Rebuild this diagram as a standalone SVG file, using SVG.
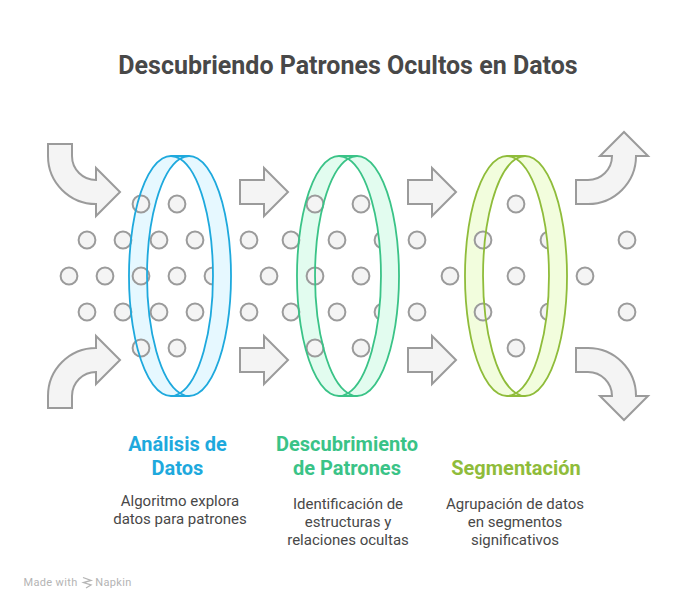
<svg xmlns="http://www.w3.org/2000/svg" width="696" height="611" viewBox="0 0 696 611">
<style>
text{font-family:Roboto,"Liberation Sans",sans-serif;text-anchor:middle}
.title{font-size:25px;font-weight:700;fill:#484848}
.head{font-size:20px;font-weight:700}
.desc{font-size:15px;fill:#484848}
.arrow{fill:#f4f4f4;stroke:#9b9b9b;stroke-width:2}
.dot{fill:#f4f4f4;stroke:#9b9b9b;stroke-width:2}
.blue{fill:#e6f8ff;stroke:none}
.green{fill:#e2fcef;stroke:none}
.lime{fill:#f2fddd;stroke:none}
.line{fill:none;stroke-width:1.8}
.wm{font-size:11px;fill:#b4b4b4;letter-spacing:.35px}
</style>
<rect width="696" height="611" fill="#fff"/>
<text class="title" x="348" y="74">Descubriendo Patrones Ocultos en Datos</text>
<g id="connectors">
<path class="arrow" d="M48 144H72V156A24 24 0 0 0 96 180V168L120 192L96 216V204A48 48 0 0 1 48 156Z"/>
<path class="arrow" d="M48 408H72V396A24 24 0 0 1 96 372V384L120 360L96 336V348A48 48 0 0 0 48 396Z"/>
<path class="arrow" d="M240 180H264V168L288 192L264 216V204H240Z"/>
<path class="arrow" d="M240 348H264V336L288 360L264 384V372H240Z"/>
<path class="arrow" d="M408 180H432V168L456 192L432 216V204H408Z"/>
<path class="arrow" d="M408 348H432V336L456 360L432 384V372H408Z"/>
<path class="arrow" d="M576 180H588A24 24 0 0 0 612 156H600L624 132L648 156H636A48 48 0 0 1 588 204H576Z"/>
<path class="arrow" d="M576 372H588A24 24 0 0 1 612 396H600L624 420L648 396H636A48 48 0 0 0 588 348H576Z"/>
</g>
<g id="ring1-back"><path class="blue" d="M180 158.8A42 120 0 1 0 180 393.2A42 120 0 0 1 180 158.8Z"/></g>
<g id="ring2-back"><path class="green" d="M348 158.8A42 120 0 1 0 348 393.2A42 120 0 0 1 348 158.8Z"/></g>
<g id="ring3-back"><path class="lime" d="M516 158.8A42 120 0 1 0 516 393.2A42 120 0 0 1 516 158.8Z"/></g>
<g id="dots">
<circle class="dot" cx="141" cy="204" r="8.4"/><circle class="dot" cx="177" cy="204" r="8.4"/>
<circle class="dot" cx="87" cy="240" r="8.4"/><circle class="dot" cx="123" cy="240" r="8.4"/><circle class="dot" cx="159" cy="240" r="8.4"/><circle class="dot" cx="195" cy="240" r="8.4"/>
<circle class="dot" cx="69" cy="276" r="8.4"/><circle class="dot" cx="105" cy="276" r="8.4"/><circle class="dot" cx="141" cy="276" r="8.4"/><circle class="dot" cx="177" cy="276" r="8.4"/><circle class="dot" cx="213" cy="276" r="8.4"/>
<circle class="dot" cx="87" cy="312" r="8.4"/><circle class="dot" cx="123" cy="312" r="8.4"/><circle class="dot" cx="159" cy="312" r="8.4"/><circle class="dot" cx="195" cy="312" r="8.4"/>
<circle class="dot" cx="141" cy="348" r="8.4"/><circle class="dot" cx="177" cy="348" r="8.4"/>
<circle class="dot" cx="315" cy="204" r="8.4"/><circle class="dot" cx="361" cy="204" r="8.4"/>
<circle class="dot" cx="249" cy="240" r="8.4"/><circle class="dot" cx="291" cy="240" r="8.4"/><circle class="dot" cx="337" cy="240" r="8.4"/><circle class="dot" cx="383" cy="240" r="8.4"/><circle class="dot" cx="417" cy="240" r="8.4"/>
<circle class="dot" cx="269" cy="276" r="8.4"/><circle class="dot" cx="315" cy="276" r="8.4"/><circle class="dot" cx="361" cy="276" r="8.4"/>
<circle class="dot" cx="249" cy="312" r="8.4"/><circle class="dot" cx="291" cy="312" r="8.4"/><circle class="dot" cx="337" cy="312" r="8.4"/><circle class="dot" cx="383" cy="312" r="8.4"/><circle class="dot" cx="417" cy="312" r="8.4"/>
<circle class="dot" cx="315" cy="348" r="8.4"/><circle class="dot" cx="361" cy="348" r="8.4"/>
<circle class="dot" cx="516" cy="204" r="8.4"/>
<circle class="dot" cx="483" cy="240" r="8.4"/><circle class="dot" cx="549" cy="240" r="8.4"/><circle class="dot" cx="627" cy="240" r="8.4"/>
<circle class="dot" cx="450" cy="276" r="8.4"/><circle class="dot" cx="516" cy="276" r="8.4"/><circle class="dot" cx="585" cy="276" r="8.4"/>
<circle class="dot" cx="483" cy="312" r="8.4"/><circle class="dot" cx="549" cy="312" r="8.4"/><circle class="dot" cx="627" cy="312" r="8.4"/>
<circle class="dot" cx="516" cy="348" r="8.4"/>
</g>
<g id="ring1-front"><path class="blue" d="M180 158.8A42 120 0 1 1 180 393.2A42 120 0 0 0 180 158.8Z"/><path class="line" stroke="#1ea9dd" d="M180 158.8A42 120 0 1 0 180 393.2A42 120 0 0 1 180 158.8A42 120 0 1 1 180 393.2A42 120 0 0 0 180 158.8M171 156H189M171 396H189"/></g>
<g id="ring2-front"><path class="green" d="M348 158.8A42 120 0 1 1 348 393.2A42 120 0 0 0 348 158.8Z"/><path class="line" stroke="#3ac387" d="M348 158.8A42 120 0 1 0 348 393.2A42 120 0 0 1 348 158.8A42 120 0 1 1 348 393.2A42 120 0 0 0 348 158.8M339 156H357M339 396H357"/></g>
<g id="ring3-front"><path class="lime" d="M516 158.8A42 120 0 1 1 516 393.2A42 120 0 0 0 516 158.8Z"/><path class="line" stroke="#8fbc3a" d="M516 158.8A42 120 0 1 0 516 393.2A42 120 0 0 1 516 158.8A42 120 0 1 1 516 393.2A42 120 0 0 0 516 158.8M507 156H525M507 396H525"/></g>
<g id="node1">
<text class="head" x="177.5" y="450.5" fill="#1ea9dd">Análisis de</text>
<text class="head" x="177.5" y="475" fill="#1ea9dd">Datos</text>
<text class="desc" x="180" y="506">Algoritmo explora</text>
<text class="desc" x="180" y="524">datos para patrones</text>
</g>
<g id="node2">
<text class="head" x="347" y="450.5" fill="#3ac387">Descubrimiento</text>
<text class="head" x="347" y="475" fill="#3ac387">de Patrones</text>
<text class="desc" x="348" y="509">Identificación de</text>
<text class="desc" x="348" y="527">estructuras y</text>
<text class="desc" x="348" y="545">relaciones ocultas</text>
</g>
<g id="node3">
<text class="head" x="516" y="475" fill="#8fbc3a">Segmentación</text>
<text class="desc" x="515" y="509">Agrupación de datos</text>
<text class="desc" x="515" y="527">en segmentos</text>
<text class="desc" x="515" y="545">significativos</text>
</g>
<g id="watermark">
<text class="wm" x="50.5" y="586">Made with</text>
<path fill="none" stroke="#b4b4b4" stroke-width="1.3" d="M83 577.5L91 580.5L83.5 582.5L91 585L86 588"/>
<text class="wm" x="113.5" y="586">Napkin</text>
</g>
</svg>
